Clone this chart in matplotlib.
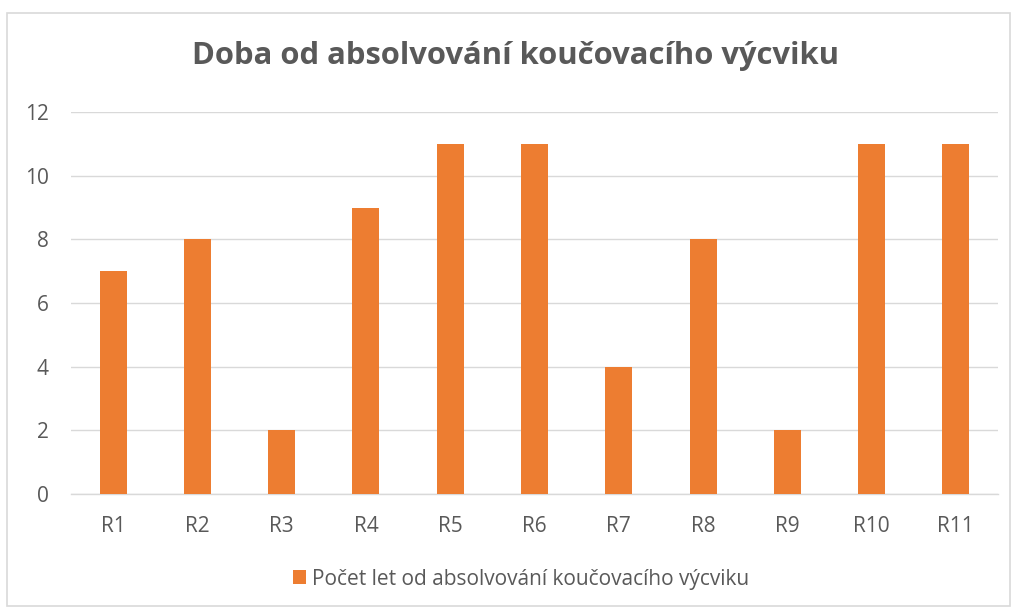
import matplotlib
matplotlib.use("Agg")
import matplotlib.pyplot as plt
from matplotlib.patches import Rectangle

categories = ["R1", "R2", "R3", "R4", "R5", "R6", "R7", "R8", "R9", "R10", "R11"]
values = [7, 8, 2, 9, 11, 11, 4, 8, 2, 11, 11]
yticks = [0, 2, 4, 6, 8, 10, 12]
title = "Doba od absolvování koučovacího výcviku"
series_name = "Počet let od absolvování koučovacího výcviku"

plt.rcParams['font.family'] = ['Open Sans', 'DejaVu Sans']

W, H = 1014, 610
fig = plt.figure(figsize=(W / 100, H / 100), dpi=100)
fig.patch.set_facecolor("white")

# outer border
fig.add_artist(Rectangle((7 / W, 1 - 606 / H), (1010 - 7) / W, (606 - 13) / H,
                         transform=fig.transFigure, fill=False,
                         edgecolor="#d9d9d9", linewidth=1.2))

left, right, top, bottom = 71, 998, 112, 494
ax = fig.add_axes([left / W, 1 - bottom / H, (right - left) / W, (bottom - top) / H])

x = list(range(len(categories)))
bars = ax.bar(x, values, width=0.32, color="#ed7d31", zorder=3, label=series_name)
ax.set_xlim(-0.5, len(categories) - 0.5)
ax.set_ylim(0, 12)
ax.set_yticks(yticks)
ax.set_xticks(x)
ax.set_xticklabels(categories)
ax.yaxis.grid(True, color="#d9d9d9", linewidth=1.0, zorder=0)
for s in ["top", "right", "left"]:
    ax.spines[s].set_visible(False)
ax.spines["bottom"].set_color("#d9d9d9")
ax.spines["bottom"].set_linewidth(1.0)
ax.tick_params(axis="both", length=0, labelsize=15, colors="#595959")
ax.tick_params(axis="y", pad=16)
ax.tick_params(axis="x", pad=16)

fig.text(515 / W, 1 - 56 / H, title, ha="center", va="center",
         fontsize=22.3, fontweight="bold", color="#595959")

fig.legend(handles=[bars], labels=[series_name], loc="center",
           bbox_to_anchor=(521 / W, 1 - 579 / H), frameon=False,
           fontsize=15, labelcolor="#595959", handlelength=0.65, handleheight=0.65,
           handletextpad=0.3)

fig.savefig("out.png", dpi=100)
